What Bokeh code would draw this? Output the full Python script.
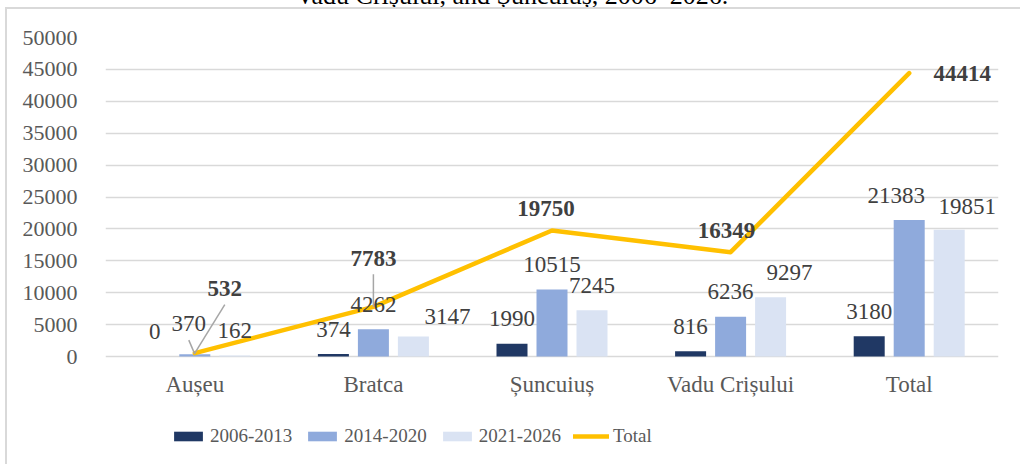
from bokeh.plotting import figure
from bokeh.models import Range1d, FixedTicker, Legend, LegendItem, ColumnDataSource, Div
from bokeh.layouts import column
from bokeh.embed import file_html
from bokeh.resources import INLINE
from bokeh.core.properties import value

# ---------------- data ----------------
caption = "Vadu Crișului, and Șuncuiuș, 2006–2026."
categories = ["Aușeu", "Bratca", "Șuncuiuș", "Vadu Crișului", "Total"]
series_names = ["2006-2013", "2014-2020", "2021-2026"]
vals_2006_2013 = [0, 374, 1990, 816, 3180]
vals_2014_2020 = [370, 4262, 10515, 6236, 21383]
vals_2021_2026 = [162, 3147, 7245, 9297, 19851]
totals = [532, 7783, 19750, 16349, 44414]
y_ticks = list(range(0, 50001, 5000))

# ---------------- styling / label nudges (pixels) ----------------
bar_colors = ["#203864", "#8FAADC", "#DAE3F3"]
line_color = "#FFC000"
FONT = "Liberation Serif"
bar_label_dx = [[0, 0, 0, 0, 0], [-6, 0, 0, 0, -13], [0, 34, 0, 19, 18]]
bar_label_dy = [[0, 0, 0, 0, 0], [6, 0, 0, 0, 0], [0, -5, 0, 0, -2]]
bar_leader = [[False] * 5, [True, False, False, False, False], [False] * 5]
tot_label_dx = [30, 0, -6, -4, 53]
tot_label_dy = [43, 27, 0, 0, -21.5]
tot_leader = [True, True, False, False, False]

W, H = 1015, 457
FL, FT = 98, 28
plot_w, plot_h = 893, 319      # pixel span of the value axis 0..50000
extra_below = 104              # frame continues below 0 to hold category names + legend
FR = W - FL - plot_w
FB = H - FT - plot_h - extra_below
ymax = y_ticks[-1]
ux = len(categories) / plot_w  # data units per pixel
uy = ymax / plot_h
x0, x1 = -0.5, len(categories) - 0.5
y0, y1 = -extra_below * uy, ymax

bar_step = 40 * ux
bar_w = 31 * ux

p = figure(width=W, height=H, x_range=Range1d(x0, x1), y_range=Range1d(y0, y1),
           output_backend="svg", toolbar_location=None,
           min_border_left=FL, min_border_right=FR, min_border_top=FT, min_border_bottom=FB)
p.outline_line_color = None
p.background_fill_color = "white"
p.border_fill_color = "white"
p.styles = {"margin-left": "5px",
            "border-top": "2px solid #D9D9D9", "border-left": "2px solid #D9D9D9"}

p.xaxis.visible = False
p.xgrid.grid_line_color = None
p.ygrid.grid_line_color = "#D9D9D9"
p.ygrid.grid_line_width = 1.5
p.ygrid.ticker = FixedTicker(ticks=y_ticks)

p.yaxis.ticker = FixedTicker(ticks=y_ticks)
p.yaxis.axis_line_color = None
p.yaxis.major_tick_line_color = None
p.yaxis.minor_tick_line_color = None
p.yaxis.major_label_standoff = 22
p.yaxis.major_label_text_font = FONT
p.yaxis.major_label_text_font_size = "22px"
p.yaxis.major_label_text_color = "#595959"

# category names under the zero line
cat_x = list(range(len(categories)))
p.text(x=cat_x, y=[-28 * uy] * len(categories), text=categories, text_font=value(FONT),
       text_font_size="23px", text_color="#595959", text_align="center",
       text_baseline="middle")

all_series = [vals_2006_2013, vals_2014_2020, vals_2021_2026]
bar_renderers = []
lab_x, lab_y, lab_t = [], [], []
lead_xs, lead_ys = [], []
for s, vals in enumerate(all_series):
    xs = [i + (s - 1) * bar_step for i in range(len(categories))]
    src = ColumnDataSource(dict(x=xs, top=vals))
    r = p.vbar(x="x", top="top", width=bar_w, bottom=0, source=src,
               fill_color=bar_colors[s], line_color=None)
    bar_renderers.append(r)
    for i, v in enumerate(vals):
        lx = xs[i] + bar_label_dx[s][i] * ux
        ly = v + (25 + bar_label_dy[s][i]) * uy
        lab_x.append(lx)
        lab_y.append(ly)
        lab_t.append(str(v))
        if bar_leader[s][i]:
            lead_xs.append([lx, xs[i]])
            lead_ys.append([ly - 17 * uy, v])

line_src = ColumnDataSource(dict(x=cat_x, y=totals))
lr = p.line(x="x", y="y", source=line_src, line_color=line_color, line_width=4.5,
            line_cap="round", line_join="round")

tl_x, tl_y, tl_t = [], [], []
for i, v in enumerate(totals):
    lx = i + tot_label_dx[i] * ux
    ly = v + (21.5 + tot_label_dy[i]) * uy
    tl_x.append(lx)
    tl_y.append(ly)
    tl_t.append(str(v))
    if tot_leader[i]:
        lead_xs.append([lx, i])
        lead_ys.append([ly - 16 * uy, v])

p.multi_line(xs=lead_xs, ys=lead_ys, line_color="#A6A6A6", line_width=1.5)

p.text(x=lab_x, y=lab_y, text=lab_t, text_font=value(FONT), text_font_size="23px",
       text_color="#404040", text_align="center", text_baseline="middle")
p.text(x=tl_x, y=tl_y, text=tl_t, text_font=value(FONT), text_font_size="23px",
       text_font_style="bold", text_color="#404040", text_align="center",
       text_baseline="middle")

items = [LegendItem(label=series_names[s], renderers=[bar_renderers[s]]) for s in range(3)]
items.append(LegendItem(label="Total", renderers=[lr]))
legend = Legend(items=items, orientation="horizontal", location=(65, 13))
legend.glyph_width = 36
legend.glyph_height = 12
legend.label_standoff = 4
legend.spacing = 12
legend.padding = 0
legend.margin = 0
legend.border_line_alpha = 0
legend.background_fill_alpha = 0
legend.label_text_font = FONT
legend.label_text_font_size = "19px"
legend.label_text_color = "#595959"
p.add_layout(legend)

# caption of the figure, mostly above the top of the page (only its lower part shows)
cap = Div(text=caption, width=W, height=7, margin=0,
          styles={"overflow": "visible"},
          stylesheets=[":host { overflow: visible; } div { position: relative; top: -17px; "
                       "width: 1024px; text-align: center; font-family: 'Liberation Serif'; "
                       "font-size: 26px; line-height: 26px; color: #000000; white-space: nowrap; }"])

layout = column(cap, p, spacing=0)
open("out.html", "w").write(file_html(layout, INLINE))
